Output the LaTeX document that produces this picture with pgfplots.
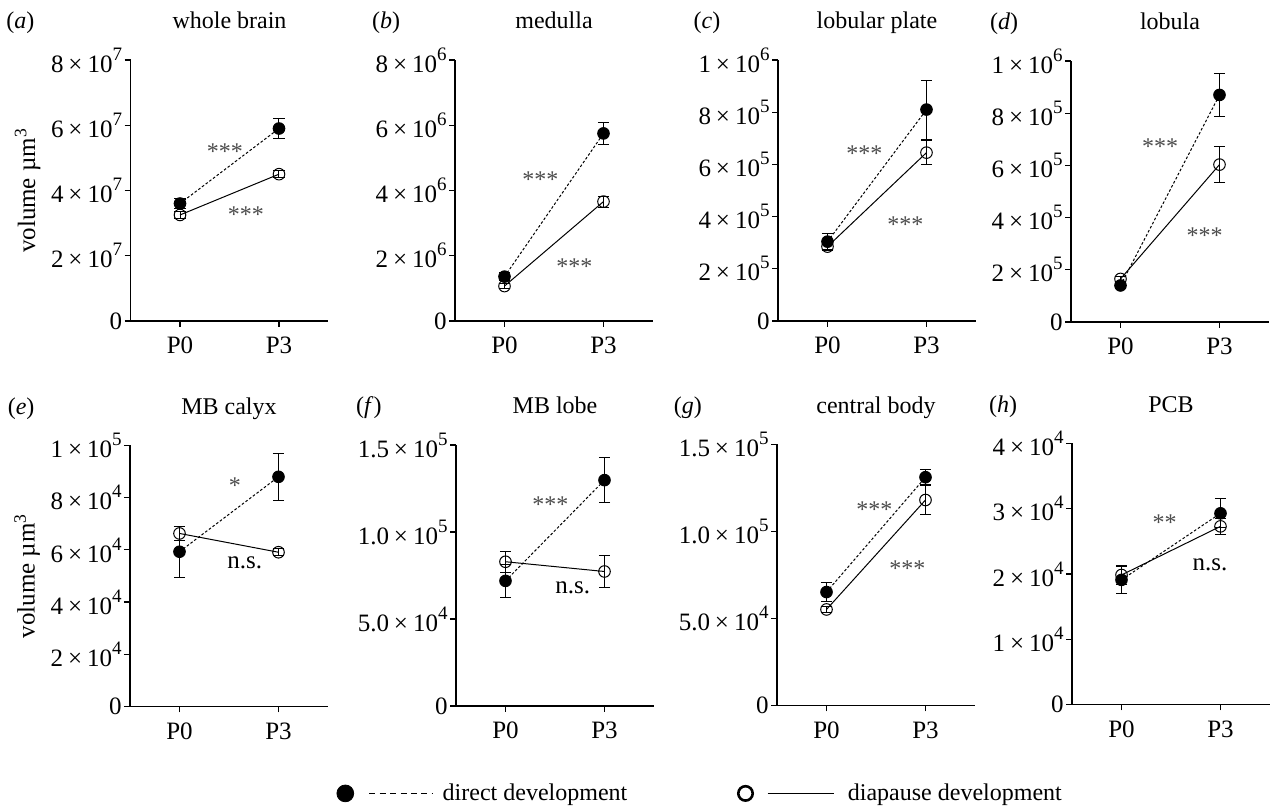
\documentclass[border=0pt]{standalone}
\usepackage{fontspec}
\setmainfont{Liberation Serif}
\usepackage{pgfplots}
\pgfplotsset{compat=1.18}
\newcommand{\sci}[2]{#1\hspace{0.2em}×\hspace{0.2em}10\raisebox{6pt}{\fontsize{9.5}{10}\selectfont #2}}
\pgfplotsset{
  panel/.style={
    scale only axis, width=99pt, height=130.5pt,
    anchor=south west,
    axis lines=left, axis line style={-, line width=0.6pt},
    xmin=-1.5, xmax=4.5, ymin=0,
    scaled y ticks=false,
    xtick={0,3}, xticklabels={P0,P3},
    tick align=outside, major tick length=3pt,
    tick style={black, line width=0.6pt},
    font=\fontsize{12}{14}\selectfont,
    ticklabel style={font=\fontsize{12.5}{14}\selectfont},
    yticklabel style={inner xsep=1pt},
    xticklabel style={yshift=-1.5pt},
    clip=false,
    title style={at={(0.5,1)}, anchor=base, yshift=9.5pt, font=\fontsize{12}{14}\selectfont},
    ylabel style={at={(axis description cs:-0.52,0.5)}, anchor=center, font=\fontsize{12.5}{14}\selectfont},
  },
  direct/.style={black, line width=0.5pt, dash pattern=on 1.3pt off 1pt,
    mark=*, mark size=2.9pt, mark options={solid, fill=black},
    error bars/.cd, y dir=both, y explicit,
    error bar style={solid, line width=0.5pt, black},
    error mark options={solid, rotate=90, line width=0.5pt, mark size=2.8pt, black}},
  diap/.style={black, line width=0.5pt, solid,
    mark=o, mark size=2.9pt, mark options={solid, line width=0.5pt},
    error bars/.cd, y dir=both, y explicit,
    error bar style={solid, line width=0.5pt, black},
    error mark options={solid, rotate=90, line width=0.5pt, mark size=2.8pt, black}},
}
\tikzset{
  stars/.style={text=black!70, anchor=center, yshift=-2.4pt, font=\fontsize{12}{14}\selectfont},
  ns/.style={text=black, anchor=center, font=\fontsize{12.5}{14}\selectfont},
  plab/.style={anchor=base, yshift=15.5pt, font=\fontsize{12}{14}\selectfont},
}
\begin{document}
\begin{tikzpicture}
\useasboundingbox (0,0) rectangle (637pt,403.5pt);

% (a) whole brain
\begin{axis}[panel, at={(65.25pt,243pt)}, ymax=8e7,
  ytick={0,2e7,4e7,6e7,8e7},
  yticklabels={0,\sci{2}{7},\sci{4}{7},\sci{6}{7},\sci{8}{7}},
  title={whole brain}, ylabel={volume µm\textsuperscript{3}}]
\addplot[diap] coordinates {(0,3.25e7) +- (0,0.1e7) (3,4.5e7) +- (0,0.1e7)};
\addplot[direct] coordinates {(0,3.6e7) +- (0,0.15e7) (3,5.9e7) +- (0,0.31e7)};
\node[stars] at (axis cs:1.36,5.35e7) {***};
\node[stars] at (axis cs:2.0,3.4e7) {***};
\node[plab] at (rel axis cs:-0.556,1) {(\textit{a})};
\end{axis}

% (b) medulla
\begin{axis}[panel, at={(227.5pt,243pt)}, ymax=8e6,
  ytick={0,2e6,4e6,6e6,8e6},
  yticklabels={0,\sci{2}{6},\sci{4}{6},\sci{6}{6},\sci{8}{6}},
  title={medulla}]
\addplot[diap] coordinates {(0,1.07e6) +- (0,0.08e6) (3,3.66e6) +- (0,0.17e6)};
\addplot[direct] coordinates {(0,1.36e6) +- (0,0.12e6) (3,5.75e6) +- (0,0.33e6)};
\node[stars] at (axis cs:1.09,4.47e6) {***};
\node[stars] at (axis cs:2.12,1.82e6) {***};
\node[plab] at (rel axis cs:-0.348,1) {(\textit{b})};
\end{axis}

% (c) lobular plate
\begin{axis}[panel, at={(389pt,243pt)}, ymax=1e6,
  ytick={0,2e5,4e5,6e5,8e5,1e6},
  yticklabels={0,\sci{2}{5},\sci{4}{5},\sci{6}{5},\sci{8}{5},\sci{1}{6}},
  title={lobular plate}]
\addplot[diap] coordinates {(0,2.85e5) +- (0,0.15e5) (3,6.45e5) +- (0,0.47e5)};
\addplot[direct] coordinates {(0,3.04e5) +- (0,0.3e5) (3,8.1e5) +- (0,1.13e5)};
\node[stars] at (axis cs:1.12,6.58e5) {***};
\node[stars] at (axis cs:2.36,3.87e5) {***};
\node[plab] at (rel axis cs:-0.359,1) {(\textit{c})};
\end{axis}

% (d) lobula
\begin{axis}[panel, at={(535.5pt,242.5pt)}, ymax=1e6,
  ytick={0,2e5,4e5,6e5,8e5,1e6},
  yticklabels={0,\sci{2}{5},\sci{4}{5},\sci{6}{5},\sci{8}{5},\sci{1}{6}},
  title={lobula}]
\addplot[diap] coordinates {(0,1.65e5) +- (0,0.1e5) (3,6.03e5) +- (0,0.69e5)};
\addplot[direct] coordinates {(0,1.4e5) +- (0,0.12e5) (3,8.7e5) +- (0,0.82e5)};
\node[stars] at (axis cs:1.2,6.92e5) {***};
\node[stars] at (axis cs:2.55,3.49e5) {***};
\node[plab] at (rel axis cs:-0.338,1) {(\textit{d})};
\end{axis}

% (e) MB calyx
\begin{axis}[panel, at={(65pt,50.25pt)}, ymax=1e5,
  ytick={0,2e4,4e4,6e4,8e4,1e5},
  yticklabels={0,\sci{2}{4},\sci{4}{4},\sci{6}{4},\sci{8}{4},\sci{1}{5}},
  title={MB calyx}, ylabel={volume µm\textsuperscript{3}},
  legend columns=2,
  legend style={at={(axis description cs:1.043,-0.333)}, anchor=west,
    draw=none, fill=none, inner sep=0pt, font=\fontsize{12}{14}\selectfont,
    /tikz/every even column/.append style={column sep=53.5pt}},
  legend cell align=left]
\addplot[forget plot, diap] coordinates {(0,6.63e4) +- (0,0.28e4) (3,5.91e4) +- (0,0.13e4)};
\addplot[forget plot, direct] coordinates {(0,5.93e4) +- (0,0.98e4) (3,8.8e4) +- (0,0.9e4)};
\node[stars] at (axis cs:1.68,8.65e4) {*};
\node[ns] at (axis cs:1.98,5.49e4) {n.s.};
\node[plab] at (rel axis cs:-0.55,1) {(\textit{e})};
\addlegendimage{legend image code/.code={
  \draw[black, fill=black] plot[mark=*, mark size=4.2pt] coordinates {(0pt,0pt)};
  \draw[black, line width=0.5pt, dash pattern=on 3pt off 2.2pt] (12pt,0pt) -- (43.5pt,0pt);
  \path (46.5pt,0pt);}}
\addlegendentry{direct development}
\addlegendimage{legend image code/.code={
  \draw[black, line width=1.3pt] plot[mark=o, mark size=3.6pt] coordinates {(0pt,0pt)};
  \draw[black, line width=0.5pt] (11pt,0pt) -- (44pt,0pt);
  \path (49pt,0pt);}}
\addlegendentry{diapause development}
\end{axis}

% (f) MB lobe
\begin{axis}[panel, at={(228pt,50.5pt)}, ymax=1.5e5,
  ytick={0,5e4,1e5,1.5e5},
  yticklabels={0,\sci{5.0}{4},\sci{1.0}{5},\sci{1.5}{5}},
  title={MB lobe}]
\addplot[diap] coordinates {(0,8.29e4) +- (0,0.6e4) (3,7.73e4) +- (0,0.92e4)};
\addplot[direct] coordinates {(0,7.19e4) +- (0,0.97e4) (3,12.98e4) +- (0,1.3e4)};
\node[stars] at (axis cs:1.36,1.186e5) {***};
\node[ns] at (axis cs:2.04,0.681e5) {n.s.};
\node[plab] at (rel axis cs:-0.44,1) {(\textit{f})};
\end{axis}

% (g) central body
\begin{axis}[panel, at={(388.5pt,50.75pt)}, ymax=1.5e5,
  ytick={0,5e4,1e5,1.5e5},
  yticklabels={0,\sci{5.0}{4},\sci{1.0}{5},\sci{1.5}{5}},
  title={central body}]
\addplot[diap] coordinates {(0,5.52e4) +- (0,0.15e4) (3,11.81e4) +- (0,0.83e4)};
\addplot[direct] coordinates {(0,6.52e4) +- (0,0.54e4) (3,13.12e4) +- (0,0.43e4)};
\node[stars] at (axis cs:1.45,1.152e5) {***};
\node[stars] at (axis cs:2.45,0.813e5) {***};
\node[plab] at (rel axis cs:-0.45,1) {(\textit{g})};
\end{axis}

% (h) PCB
\begin{axis}[panel, at={(536pt,51.25pt)}, ymax=4e4,
  ytick={0,1e4,2e4,3e4,4e4},
  yticklabels={0,\sci{1}{4},\sci{2}{4},\sci{3}{4},\sci{4}{4}},
  title={PCB}]
\addplot[diap] coordinates {(0,1.985e4) +- (0,0.14e4) (3,2.73e4) +- (0,0.12e4)};
\addplot[direct] coordinates {(0,1.91e4) +- (0,0.21e4) (3,2.93e4) +- (0,0.22e4)};
\node[stars] at (axis cs:1.31,2.856e4) {**};
\node[ns] at (axis cs:2.68,2.14e4) {n.s.};
\node[plab] at (rel axis cs:-0.348,1) {(\textit{h})};
\end{axis}
\end{tikzpicture}
\end{document}
